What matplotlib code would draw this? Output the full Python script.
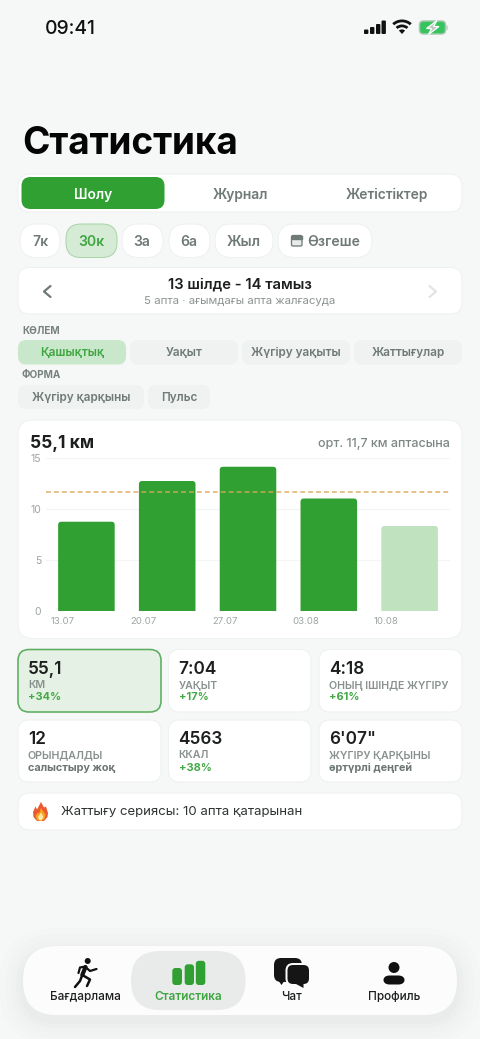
import matplotlib
matplotlib.use("Agg")
import matplotlib.pyplot as plt
from matplotlib.patches import FancyBboxPatch, Circle, Wedge, Polygon

plt.rcParams['font.family'] = ['Inter', 'DejaVu Sans']

# chart data
week_labels = ["13.07", "20.07", "27.07", "03.08", "10.08"]
week_km = [8.77, 12.77, 14.17, 11.05, 8.35]
avg_km = 11.7
y_ticks = [0, 5, 10, 15]

# ui texts
tabs = ["Шолу", "Журнал", "Жетістіктер"]
ranges = ["7к", "30к", "3а", "6а", "Жыл", "Өзгеше"]
volume_pills = ["Қашықтық", "Уақыт", "Жүгіру уақыты", "Жаттығулар"]
form_pills = ["Жүгіру қарқыны", "Пульс"]
stat_values = ["55,1", "7:04", "4:18", "12", "4563", "6'07\""]
stat_labels = ["КМ", "УАҚЫТ", "ОНЫҢ ІШІНДЕ ЖҮГІРУ", "ОРЫНДАЛДЫ", "ККАЛ", "ЖҮГІРУ ҚАРҚЫНЫ"]
stat_notes = ["+34%", "+17%", "+61%", "салыстыру жоқ", "+38%", "әртүрлі деңгей"]
nav_items = ["Бағдарлама", "Статистика", "Чат", "Профиль"]

GREEN = "#2fa031"
GREY = "#6f7a76"
DARK = "#1c1f1e"
EDGE = "#edf1ef"

fig = plt.figure(figsize=(4.8, 10.39), dpi=100, facecolor="#f6f8f7")
bg = fig.add_axes([0, 0, 1, 1])
bg.set_xlim(0, 480)
bg.set_ylim(1039, 0)
bg.axis("off")


def box(x0, y0, x1, y1, r, fc="white", ec=EDGE, lw=1.0, z=2, alpha=None):
    p = FancyBboxPatch((x0, y0), x1 - x0, y1 - y0, boxstyle=f"round,pad=0,rounding_size={r}",
                       fc=fc, ec=ec, lw=lw * 0.72, zorder=z, alpha=alpha)
    bg.add_patch(p)
    return p


def txt(x, y, s, px, color=DARK, weight="normal", ha="center"):
    # va=center sits a bit high for these strings, so push down
    bg.text(x, y + 1.5, s, fontsize=px * 0.72, color=color, fontweight=weight, ha=ha, va="center", zorder=6)


# status bar
txt(70.5, 27, "09:41", 19.3, "#111111", "medium")
for bx, h in zip([364, 370, 376, 381.5], [4.5, 7, 10, 13.5]):
    box(bx, 34 - h, bx + 4.4, 34, 1, fc="#111111", ec="none")
for r, w in [(14.5, 2.8), (9.5, 2.8), (4.6, 4.6)]:
    bg.add_patch(Wedge((402, 34), r, 228, 312, width=w, fc="#111111", ec="none", zorder=3))
box(419.5, 21, 445.5, 34, 4, fc="#36c45e", ec="#a9c9b2", lw=1.5)
box(446.5, 25.5, 447.5, 30, 0.5, fc="#a9b5ad", ec="none")
bg.add_patch(Polygon([[437, 20.5], [426.5, 28.5], [431.5, 28.5], [428.5, 34.5], [439, 26.5], [433.5, 26.5]],
                     fc="#bcc8c0", ec="white", lw=0.9, zorder=3))

txt(22.5, 142, "Статистика", 37, "#050505", "bold", ha="left")

# tabs
box(18, 174, 462, 212, 13)
box(21.5, 177, 164.5, 209, 9, fc=GREEN, ec="none", z=3)
for cx, s, c in zip([93, 240, 387], tabs, ["white", GREY, GREY]):
    txt(cx, 193, s, 13.8, c, "semibold")

# range chips
chip_x = [(20, 60), (66, 117), (122, 163), (169, 210), (215, 273), (278, 372)]
chip_tx = [40, 91, 142, 189, 244, 334]
for i, (s, (a, b), cx) in enumerate(zip(ranges, chip_x, chip_tx)):
    if i == 1:
        box(a, 224, b, 257.5, 15, fc="#d6ebd5", ec="#a8d4a8")
        txt(cx, 240, s, 14, "#3fa541", "semibold")
    else:
        box(a, 224, b, 257.5, 16.5)
        txt(cx, 240, s, 14, GREY, "semibold")
box(291.5, 235.5, 302, 246, 1.5, fc="#e9ecea", ec=GREY, lw=1.3, z=4)
bg.fill_between([291.5, 302], 235.5, 238.5, color=GREY, zorder=4)

# date navigator
box(18, 267.5, 462, 314, 12)
txt(240, 283, "13 шілде - 14 тамыз", 14.8, DARK, "semibold")
txt(240, 299.5, "5 апта · ағымдағы апта жалғасуда", 11.4, "#8b9490")
bg.plot([50.5, 44, 50.5], [286, 291.5, 297], color=GREY, lw=1.6, zorder=4, solid_capstyle="round")
bg.plot([429.5, 436, 429.5], [286, 291.5, 297], color="#e1e5e3", lw=1.6, zorder=4, solid_capstyle="round")

# metric pills
txt(22, 329, "КӨЛЕМ", 10, "#77817d", "bold", ha="left")
txt(22, 374, "ФОРМА", 10, "#77817d", "bold", ha="left")
for i, (s, a) in enumerate(zip(volume_pills, [18, 130, 242, 354])):
    box(a, 340, a + 108, 364.5, 8, fc="#c9e7ca" if i == 0 else "#eff2f1", ec="none")
    txt(a + 54, 352, s, 11.8, "#3fa541" if i == 0 else GREY, "semibold")
for s, (a, b) in zip(form_pills, [(18, 144), (148, 210)]):
    box(a, 385, b, 409, 8, fc="#eff2f1", ec="none")
    txt((a + b) / 2, 396.5, s, 11.8, GREY, "semibold")

# chart card
box(18, 420, 462, 638.5, 15)
txt(30.5, 442, "55,1 км", 17.4, DARK, "bold", ha="left")
txt(449.5, 442.5, "орт. 11,7 км аптасына", 12.5, "#7d8783", "medium", ha="right")

ax = fig.add_axes([46 / 480, 1 - 611 / 1039, 404 / 480, 152.7 / 1039])
ax.patch.set_visible(False)
ax.set_xlim(-0.5, 4.5)
ax.set_ylim(0, 15)
x = list(range(len(week_km)))
colors = [GREEN] * 4 + ["#c0e2bf"]
bars = ax.bar(x, week_km, width=0.7, color=colors, zorder=2)
for b in bars:
    # rounded top corners, the bottom ones fall below the axis and get clipped
    ax.add_patch(FancyBboxPatch((b.get_x(), -2), b.get_width(), b.get_height() + 2,
                                boxstyle="round,pad=0,rounding_size=0.04", mutation_aspect=7.93,
                                fc=b.get_facecolor(), ec="none", zorder=2))
    b.set_visible(False)
ax.axhline(avg_km, color="#dca757", lw=1.1, dashes=(3.2, 2.0), alpha=0.9, zorder=3)
ax.set_yticks(y_ticks)
ax.set_xticks([i - 0.29 for i in x])
ax.set_xticklabels(week_labels)
ax.tick_params(length=0, labelcolor="#9ea5a2")
ax.tick_params(axis="x", pad=4.5, labelsize=9.6 * 0.72)
ax.tick_params(axis="y", pad=3.5, labelsize=10.4 * 0.72)
ax.grid(axis="y", color="#f3f5f4", lw=0.8, zorder=0)
ax.grid(axis="x", visible=False)
for sp in ax.spines.values():
    sp.set_visible(False)

# stat cards
col_x = [(18, 161), (168.5, 311), (319, 462)]
row_y = [(649.5, 712), (720, 782)]
for i in range(6):
    a, b = col_x[i % 3]
    top, bot = row_y[i // 3]
    if i == 0:
        box(a, top, b, bot, 11, fc="#e4f1e4", ec="#5dae5e", lw=1.6)
    else:
        box(a, top, b, bot, 11)
    txt(a + 10, top + 18, stat_values[i], 17.2, DARK, "semibold", ha="left")
    txt(a + 10, top + 34, stat_labels[i], 10.6, "#88918d", "semibold", ha="left")
    if stat_notes[i].startswith("+"):
        txt(a + 10, top + 46.5, stat_notes[i], 11, "#45a846", "bold", ha="left")
    else:
        txt(a + 10, top + 46.5, stat_notes[i], 10.9, "#6c7672", "bold", ha="left")

# streak card
box(18, 793, 462, 830, 12)
bg.add_patch(Polygon([[41, 802], [44, 807.5], [46, 806.5], [48, 813], [47.5, 817], [44, 821], [37, 821],
                      [33.5, 817], [33, 812], [35.5, 806.5], [37, 809.5]], fc="#ea5a30", ec="none", zorder=4))
bg.add_patch(Polygon([[41, 808], [45.5, 814.5], [44.5, 819], [41, 821], [37, 820], [35.5, 816], [38, 812.5], [39, 813.5]],
                     fc="#f9a11f", ec="none", zorder=5))
bg.add_patch(Polygon([[41, 812.5], [43.5, 817], [41.5, 820.5], [39, 820], [38, 817]], fc="#fde9a6", ec="none", zorder=5))
txt(61, 810.5, "Жаттығу сериясы: 10 апта қатарынан", 13.2, "#2f3432", ha="left")

# bottom nav with soft shadow
for grow, al in [(24, 0.006), (18, 0.007), (12, 0.008), (7, 0.01), (3, 0.012)]:
    box(23 - grow, 946 - grow + 6, 457 + grow, 1015 + grow + 6, 34 + grow, fc="black", ec="none", z=1, alpha=al)
box(23, 946, 457, 1015, 34, fc="#fbfcfb", ec="none", z=2)
box(131, 951, 245.5, 1010, 29, fc="#e8ebe9", ec="none", z=3)
for s, cx, c, w in zip(nav_items, [85, 188, 291, 394.5], [DARK, "#3fa541", DARK, DARK],
                       ["medium", "semibold", "medium", "medium"]):
    txt(cx, 995.5, s, 11.8, c, w)

# runner icon
bg.add_patch(Circle((87.7, 961), 3, fc="#111111", ec="none", zorder=4))
for xs, ys, lw in [([85.5, 82.3], [967, 975], 3.0),
                   ([85.5, 80, 78.5], [966.5, 967.5, 973], 1.6),
                   ([85.5, 90, 96.5], [967, 971, 969], 1.6),
                   ([82.3, 90, 87], [975, 979.5, 986], 1.8),
                   ([82.3, 80, 75], [975, 981, 987], 1.8)]:
    bg.plot(xs, ys, color="#111111", lw=lw, zorder=4, solid_capstyle="round", solid_joinstyle="round")

# stats icon
for a, b, t in [(172.3, 182, 968), (184.7, 194, 964.3), (195.8, 205.3, 960.8)]:
    box(a, t, b, 985, 3, fc=GREEN, ec="none", z=4)

# chat icon
box(274, 958, 302, 982, 7, fc="#151515", ec="none", z=4)
bg.add_patch(Polygon([[278, 980], [281.5, 985], [285, 980]], fc="#151515", ec="none", zorder=4))
box(286.5, 964, 310, 985, 6.5, fc="#151515", ec="#fbfcfb", lw=2.0, z=5)
bg.add_patch(Polygon([[296, 984], [303.5, 988], [303.5, 984]], fc="#151515", ec="none", zorder=5))

# profile icon
bg.add_patch(Circle((394, 967.5), 5.5, fc="#111111", ec="none", zorder=4))
box(383, 975.5, 405, 984.5, 6.5, fc="#111111", ec="none", z=4)

fig.savefig("out.png", dpi=100, facecolor=fig.get_facecolor())
